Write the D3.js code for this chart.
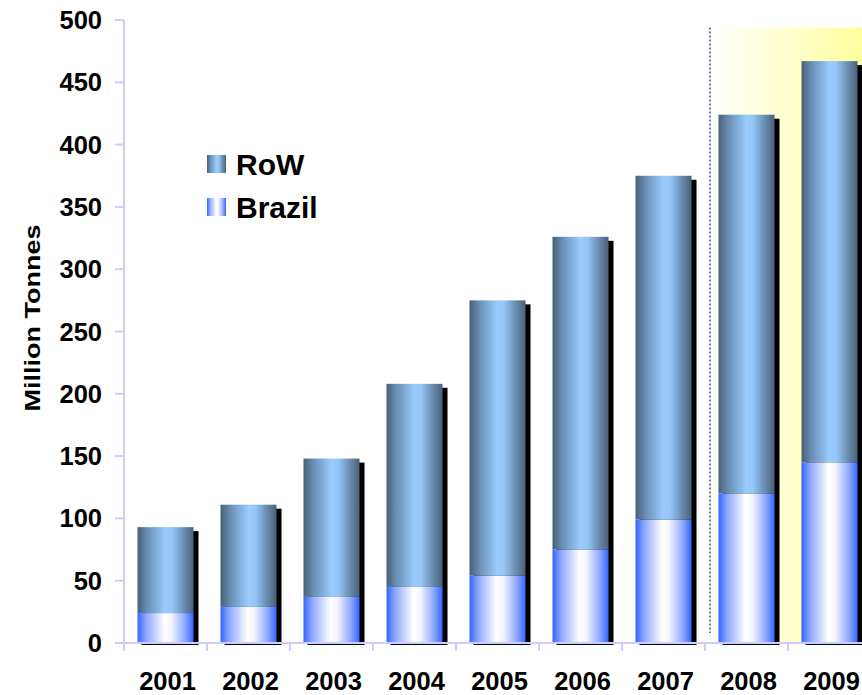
<!DOCTYPE html>
<html>
<head>
<meta charset="utf-8">
<script src="https://cdn.jsdelivr.net/npm/d3@7"></script>
<style>
  html, body { margin: 0; padding: 0; background: #fff; }
  svg { display: block; overflow: hidden; }
  text { font-family: "Liberation Sans", Arial, sans-serif; font-weight: bold; fill: #000; }
</style>
</head>
<body>
<svg id="chart" width="862" height="695"></svg>
<script>
// Production in million tonnes
const years = ["2001", "2002", "2003", "2004", "2005", "2006", "2007", "2008", "2009"];
const brazil = [24, 29, 37, 45, 54, 75, 99, 120, 145];
const row = [69, 82, 111, 163, 221, 251, 276, 304, 322];
const yTicks = [0, 50, 100, 150, 200, 250, 300, 350, 400, 450, 500];
const seriesNames = ["RoW", "Brazil"];
const forecastYears = ["2008", "2009"];

const svg = d3.select("#chart");
const plotLeft = 124, plotBottom = 643, plotTop = 20;
const step = 83;

const x = d3.scaleBand()
  .domain(years)
  .range([plotLeft, plotLeft + step * years.length])
  .paddingInner(0.325)
  .paddingOuter(0.1625);

const y = d3.scaleLinear().domain([0, 500]).range([plotBottom, plotTop]);

// Gradients
const defs = svg.append("defs");
function hGrad(id, stops) {
  const g = defs.append("linearGradient").attr("id", id)
    .attr("x1", "0%").attr("x2", "100%").attr("y1", "0%").attr("y2", "0%");
  stops.forEach(([o, c]) => g.append("stop").attr("offset", o).attr("stop-color", c));
}
hGrad("gRow", [["0%", "#4a6078"], ["18%", "#6a8fb4"], ["50%", "#99ccff"], ["62%", "#94c6f6"], ["85%", "#6686a8"], ["100%", "#4a6078"]]);
hGrad("gBrazil", [["0%", "#3366ff"], ["15%", "#8ca6ff"], ["48%", "#ffffff"], ["60%", "#f4f6ff"], ["85%", "#8ca6ff"], ["100%", "#3366ff"]]);
hGrad("gHighlight", [["0%", "#ffffff"], ["100%", "#ffff99"]]);

// Forecast highlight, starting just right of the band boundary
const firstIdx = years.indexOf(forecastYears[0]);
const hx0 = plotLeft + firstIdx * x.step() + 5;
svg.append("rect")
  .attr("x", hx0)
  .attr("y", y(494))
  .attr("width", plotLeft + step * years.length - hx0)
  .attr("height", plotBottom - y(494))
  .attr("fill", "url(#gHighlight)");

svg.append("line")
  .attr("x1", hx0).attr("x2", hx0)
  .attr("y1", y(494)).attr("y2", y(8))
  .attr("stroke", "#3a5070").attr("stroke-width", 1.5)
  .attr("stroke-dasharray", "2,2");

// Axes
const axisColor = "#ccccff";
const yAxis = svg.append("g");
yAxis.append("line")
  .attr("x1", plotLeft).attr("x2", plotLeft)
  .attr("y1", y(500)).attr("y2", plotBottom + 8)
  .attr("stroke", axisColor).attr("stroke-width", 2);
yAxis.selectAll("line.tick").data(yTicks).join("line")
  .attr("class", "tick")
  .attr("x1", plotLeft - 9).attr("x2", plotLeft)
  .attr("y1", d => y(d)).attr("y2", d => y(d))
  .attr("stroke", axisColor).attr("stroke-width", 2);
yAxis.selectAll("text").data(yTicks).join("text")
  .attr("x", plotLeft - 22)
  .attr("y", d => y(d) + 9)
  .attr("text-anchor", "end")
  .attr("font-size", 25.5)
  .text(d => d);

// Bars with drop shadows
const bars = svg.append("g");
years.forEach((yr, i) => {
  const bx = x(yr), bw = x.bandwidth();
  const total = brazil[i] + row[i];
  bars.append("rect")
    .attr("x", bx + 4).attr("y", y(total) + 4)
    .attr("width", bw + 1).attr("height", plotBottom - y(total) - 2)
    .attr("fill", "#000");
  bars.append("rect")
    .attr("x", bx).attr("y", y(total))
    .attr("width", bw).attr("height", y(brazil[i]) - y(total))
    .attr("fill", "url(#gRow)");
  bars.append("rect")
    .attr("x", bx).attr("y", y(brazil[i]))
    .attr("width", bw).attr("height", plotBottom - y(brazil[i]))
    .attr("fill", "url(#gBrazil)");
});

// x axis
const xAxis = svg.append("g");
xAxis.append("line")
  .attr("x1", plotLeft - 8).attr("x2", plotLeft + step * years.length)
  .attr("y1", plotBottom).attr("y2", plotBottom)
  .attr("stroke", axisColor).attr("stroke-width", 2);
xAxis.selectAll("line.tick").data(d3.range(years.length + 1)).join("line")
  .attr("class", "tick")
  .attr("x1", d => plotLeft + d * x.step()).attr("x2", d => plotLeft + d * x.step())
  .attr("y1", plotBottom).attr("y2", plotBottom + 8)
  .attr("stroke", axisColor).attr("stroke-width", 2);
xAxis.selectAll("text").data(years).join("text")
  .attr("x", d => x(d) + x.bandwidth() / 2 + 2)
  .attr("y", 690)
  .attr("text-anchor", "middle")
  .attr("font-size", 25.5)
  .text(d => d);

// y axis title
svg.append("text")
  .attr("transform", "translate(40,318) rotate(-90)")
  .attr("text-anchor", "middle")
  .attr("font-size", 22)
  .attr("textLength", 187)
  .attr("lengthAdjust", "spacingAndGlyphs")
  .text("Million Tonnes");

// Legend
const legend = svg.append("g");
const legendFills = ["url(#gRow)", "url(#gBrazil)"];
seriesNames.forEach((name, i) => {
  const ly = 155 + i * 43;
  legend.append("rect")
    .attr("x", 207).attr("y", ly)
    .attr("width", 19).attr("height", 18)
    .attr("fill", legendFills[i]);
  legend.append("text")
    .attr("x", 236).attr("y", ly + 20)
    .attr("font-size", 30)
    .text(name);
});
</script>
</body>
</html>
